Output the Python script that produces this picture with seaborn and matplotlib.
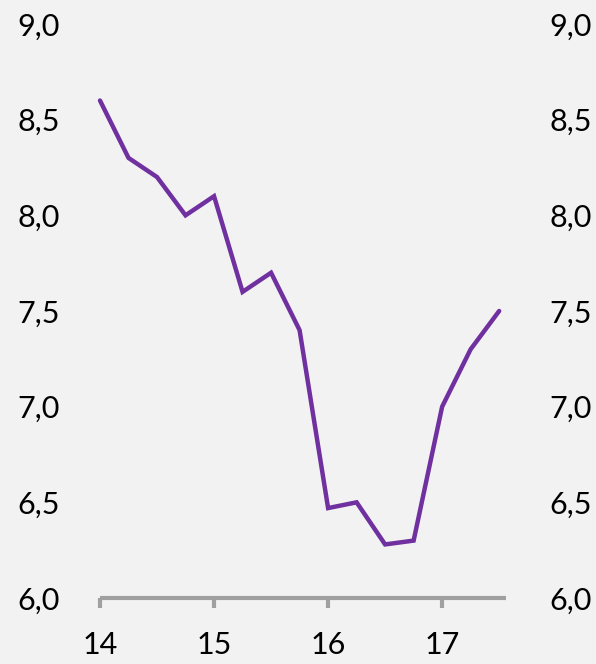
import numpy as np
import pandas as pd
import matplotlib
matplotlib.use("Agg")
import matplotlib.pyplot as plt
import seaborn as sns
from matplotlib.ticker import FuncFormatter

sns.set_theme(style="white")
plt.rcParams['font.family'] = ['Lato', 'DejaVu Sans']

quarters = [14.0, 14.25, 14.5, 14.75, 15.0, 15.25, 15.5, 15.75,
            16.0, 16.25, 16.5, 16.75, 17.0, 17.25, 17.5]
values = [8.6, 8.3, 8.2, 8.0, 8.1, 7.6, 7.7, 7.4,
          6.47, 6.5, 6.28, 6.3, 7.0, 7.3, 7.5]
yticks = [6.0, 6.5, 7.0, 7.5, 8.0, 8.5, 9.0]
xticks = [14, 15, 16, 17]
xticklabels = ["14", "15", "16", "17"]

df = pd.DataFrame({"t": quarters, "v": values})

bg = "#f2f2f2"
fig = plt.figure(figsize=(5.96, 6.64), dpi=100, facecolor=bg)
ax = fig.add_axes([100/596, 1 - 598/664, (506-100)/596, (598-24)/664])
ax.set_facecolor(bg)

sns.lineplot(data=df, x="t", y="v", ax=ax, color="#7030A0", linewidth=3.2)

ax.set_xlim(14, 17.56)
ax.set_ylim(6.0, 9.0)
ax.set_xticks(xticks)
ax.set_xticklabels(xticklabels)
ax.set_yticks(yticks)
fmt = FuncFormatter(lambda v, p: f"{v:.1f}".replace(".", ","))
ax.yaxis.set_major_formatter(fmt)
ax.set_xlabel("")
ax.set_ylabel("")

for s in ["top", "right", "left"]:
    ax.spines[s].set_visible(False)
ax.spines["bottom"].set_color("#a0a0a0")
ax.spines["bottom"].set_linewidth(3)
ax.spines["bottom"].set_capstyle("butt")
ax.tick_params(axis="x", direction="out", length=7, width=3, color="#a0a0a0",
               labelsize=22, pad=17, labelcolor="black", bottom=True)
ax.tick_params(axis="y", length=0, labelsize=22, pad=29, labelcolor="black")

ax2 = ax.twinx()
ax2.set_ylim(6.0, 9.0)
ax2.set_yticks(yticks)
ax2.yaxis.set_major_formatter(fmt)
for s in ["top", "right", "left", "bottom"]:
    ax2.spines[s].set_visible(False)
ax2.tick_params(axis="y", length=0, labelsize=22, pad=31, labelcolor="black")
ax2.grid(False)
ax.grid(False)
for line in ax.get_lines():
    line.set_clip_on(False)
    line.set_solid_joinstyle("miter")

fig.savefig("out.png", dpi=100, facecolor=bg)
